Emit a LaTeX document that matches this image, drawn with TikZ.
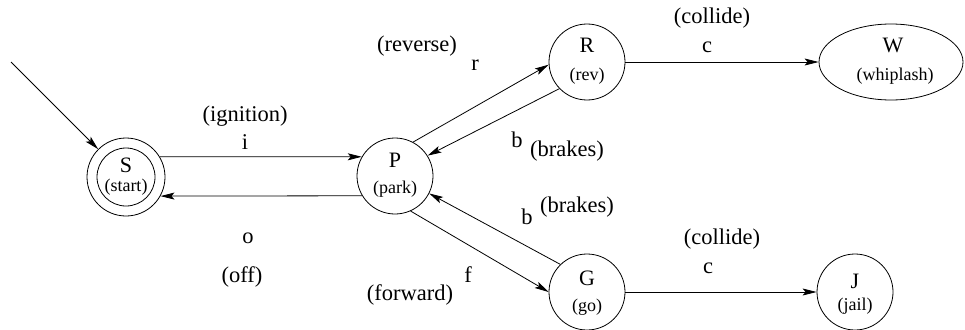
\documentclass[tikz,border=0pt]{standalone}
\usepackage{fontspec}
\setmainfont{Liberation Serif}
\newfontfamily\tms{Liberation Serif}
\usetikzlibrary{arrows.meta,shapes.geometric}
\begin{document}
\begin{tikzpicture}[x=1pt,y=-1pt,
  state/.style={circle,draw,line width=0.8pt,minimum size=76pt,inner sep=0pt},
  bigtxt/.style={font=\tms\fontsize{22}{24}\selectfont,inner sep=0pt},
  smalltxt/.style={font=\tms\fontsize{18}{20}\selectfont,inner sep=0pt},
  elab/.style={font=\tms\fontsize{22.5}{24}\selectfont,inner sep=0pt},
  edge/.style={line width=0.8pt,-{Stealth[length=14pt,width=7pt,inset=3pt]}}]
\useasboundingbox (0,0) rectangle (965,329);
% states
\node[state,minimum size=78pt] (S) at (126,177) {};
\node[circle,draw,line width=0.8pt,minimum size=58pt,inner sep=0pt] (Si) at (126,177) {};
\node[state] (P) at (395,176) {};
\node[state] (R) at (587,62) {};
\node[ellipse,draw,line width=0.8pt,minimum width=144pt,minimum height=76pt,inner sep=0pt] (W) at (891,62) {};
\node[state] (G) at (587,292) {};
\node[state] (J) at (855,292) {};
% state texts
\node[bigtxt] (St) at (126,165.5) {S};
\node[smalltxt] (Ss) at (126,187.5) {(start)};
\node[bigtxt] (Pt) at (395,160.5) {P};
\node[smalltxt] (Ps) at (395,189.5) {(park)};
\node[bigtxt] (Rt) at (587,45.5) {R};
\node[smalltxt] (Rs) at (587,76.5) {(rev)};
\node[bigtxt] (Wt) at (893,45) {W};
\node[smalltxt] (Ws) at (895,76.5) {(whiplash)};
\node[bigtxt] (Gt) at (587,278) {G};
\node[smalltxt] (Gs) at (587,307) {(go)};
\node[bigtxt] (Jt) at (855,281) {J};
\node[smalltxt] (Js) at (855,306) {(jail)};
% edges
\coordinate (start) at (11,62);
\draw[edge] (start) -- (S.135);
\draw[edge] (S.31) -- (P.150);
\draw[edge] (P.211) -- (S.331);
\draw[edge] (P.62) -- (R.184);
\draw[edge] (R.224) -- (P.32);
\draw[edge] (G.134) -- (P.333);
\draw[edge] (P.294) -- (G.180);
\draw[edge] (R.east) -- (W.west);
\draw[edge] (G.east) -- (J.west);
% edge labels
\node[elab] (l1) at (245,116) {(ignition)};
\node[elab] (l2) at (245,142) {i};
\node[elab] (l3) at (248,238) {o};
\node[elab] (l4) at (242,277) {(off)};
\node[elab] (l5) at (417,46) {(reverse)};
\node[elab] (l6) at (475,65) {r};
\node[elab] (l7) at (517,140) {b};
\node[elab] (l8) at (567,151) {(brakes)};
\node[elab] (l9) at (527,217) {b};
\node[elab] (l10) at (577,207) {(brakes)};
\node[elab] (l11) at (468,275) {f};
\node[elab] (l12) at (410,295) {(forward)};
\node[elab] (l13) at (712,18) {(collide)};
\node[elab] (l14) at (707,47) {c};
\node[elab] (l15) at (722,239) {(collide)};
\node[elab] (l16) at (708,268) {c};
\end{tikzpicture}
\end{document}
